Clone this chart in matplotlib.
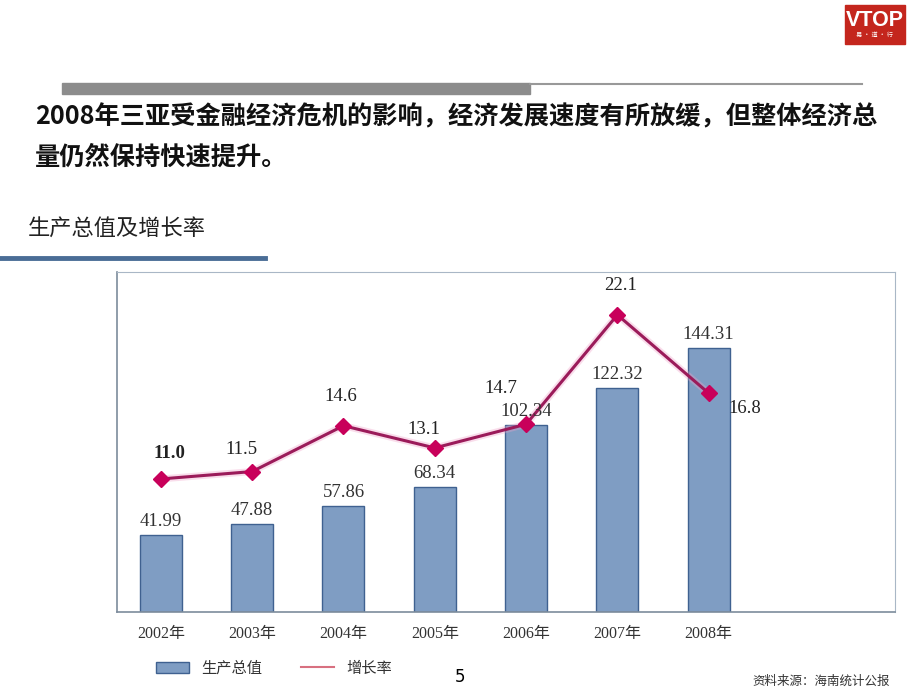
import numpy as np
import matplotlib.pyplot as plt
from matplotlib.patches import Patch, Rectangle
from matplotlib.lines import Line2D

years = ['2002年', '2003年', '2004年', '2005年', '2006年', '2007年', '2008年']
gdp = [41.99, 47.88, 57.86, 68.34, 102.34, 122.32, 144.31]
growth = [11.0, 11.5, 14.6, 13.1, 14.7, 22.1, 16.8]
growth_labels = ['11.0', '11.5', '14.6', '13.1', '14.7', '22.1', '16.8']

title_lines = ['2008年三亚受金融经济危机的影响，经济发展速度有所放缓，但整体经济总',
               '量仍然保持快速提升。']
subtitle = '生产总值及增长率'
legend_names = ['生产总值', '增长率']
source = '资料来源：海南统计公报'

CJK = ['Noto Sans CJK SC', 'DejaVu Sans']
SERIF = ['Liberation Serif', 'Noto Sans CJK SC']

# label offsets (points) for the growth line
grow_off = [(6, 18), (-8, 16), (-2, 21), (-8, 13), (-18, 26), (2, 21), (26, -11)]

bar_face = '#7f9dc3'
bar_edge = '#3f6190'
line_col = '#9b1b5a'
mark_col = '#c8005a'


def draw_page(fig):
    # logo
    fig.patches.append(Rectangle((845 / 920, 1 - 44 / 690), 60 / 920, 39 / 690,
                                 transform=fig.transFigure, color='#c4261d'))
    fig.text(875 / 920, 1 - 20 / 690, 'VTOP', color='white', fontsize=15.5,
             ha='center', va='center', family='Liberation Sans', fontweight='bold')
    fig.text(875 / 920, 1 - 35 / 690, '易 · 道 · 行', color='white', fontsize=4.5,
             ha='center', va='center', family=CJK)
    # grey header bar
    fig.patches.append(Rectangle((62 / 920, 1 - 94 / 690), 468 / 920, 11 / 690,
                                 transform=fig.transFigure, color='#8c8c8c'))
    fig.add_artist(Line2D([530 / 920, 862 / 920], [1 - 84 / 690, 1 - 84 / 690],
                          transform=fig.transFigure, color='#999999', lw=1.5))
    # headline
    for i, t in enumerate(title_lines):
        fig.text(35 / 920, 1 - (117 + 40 * i) / 690, t, fontsize=18.2,
                 fontweight='bold', family=CJK, va='center', color='#111111')
    fig.text(28 / 920, 1 - 228 / 690, subtitle, fontsize=16, family=CJK,
             va='center', color='#222222')
    fig.add_artist(Line2D([0, 265 / 920], [1 - 258 / 690, 1 - 258 / 690],
                          transform=fig.transFigure, color='#4a6d96', lw=3.5))
    fig.text(460 / 920, 1 - 677 / 690, '5', fontsize=12, family='DejaVu Sans',
             ha='center', va='center')
    fig.text(890 / 920, 1 - 681 / 690, source, fontsize=9, family=CJK,
             ha='right', va='center', color='#333333')


def main():
    fig = plt.figure(figsize=(9.2, 6.9), dpi=100)
    draw_page(fig)

    ax = fig.add_axes([117 / 920, 1 - 612 / 690, 778 / 920, 340 / 690])
    x = np.arange(len(years))
    ax.bar(x, gdp, width=0.46, color=bar_face, edgecolor=bar_edge, lw=1)
    ax.set_xlim(-0.48, 8.04)
    ax.set_ylim(0, 186)
    ax.set_yticks([])
    ax.set_xticks(x)
    ax.set_xticklabels(years, family=SERIF, fontsize=11.5, color='#333333')
    ax.tick_params(axis='x', length=0, pad=10)
    for s in ['left', 'bottom']:
        ax.spines[s].set_color('#7d8c9c')
        ax.spines[s].set_linewidth(1.2)
    for s in ['top', 'right']:
        ax.spines[s].set_color('#a9b7c6')

    ax2 = ax.twinx()
    ax2.set_ylim(2.0, 25.0)
    ax2.set_yticks([])
    for s in ax2.spines.values():
        s.set_visible(False)
    ax2.plot(x, growth, color='#f0a0c8', lw=5, alpha=0.35, solid_capstyle='round')
    ax2.plot(x, growth, color=line_col, lw=2.2, marker='D', markersize=8,
             markerfacecolor=mark_col, markeredgecolor=mark_col)
    for i, (xi, v) in enumerate(zip(x, growth)):
        ax2.annotate(growth_labels[i], (xi, v), xytext=grow_off[i],
                     textcoords='offset points', ha='center', va='center',
                     fontsize=13.5, family=SERIF, color='#222222',
                     fontweight='bold' if i == 0 else 'normal')
    # bar values go on ax2 (bar scale) so they sit over the line
    for xi, v in zip(x, gdp):
        ax2.annotate('%.2f' % v, (xi, v), xycoords=ax.transData,
                     xytext=(0, 10), textcoords='offset points',
                     ha='center', va='center', fontsize=13.5, family=SERIF,
                     color='#333333')

    handles = [Patch(facecolor=bar_face, edgecolor=bar_edge),
               Line2D([], [], color='#d87080', lw=1.5)]
    leg = fig.legend(handles, legend_names, loc='center', ncol=2,
                     bbox_to_anchor=(274 / 920, 1 - 668 / 690), frameon=False,
                     prop={'family': CJK, 'size': 11}, handlelength=2.2,
                     handleheight=0.7, columnspacing=2.5, handletextpad=0.8)
    for t in leg.get_texts():
        t.set_color('#333333')

    fig.savefig('out.png', dpi=100)


main()
